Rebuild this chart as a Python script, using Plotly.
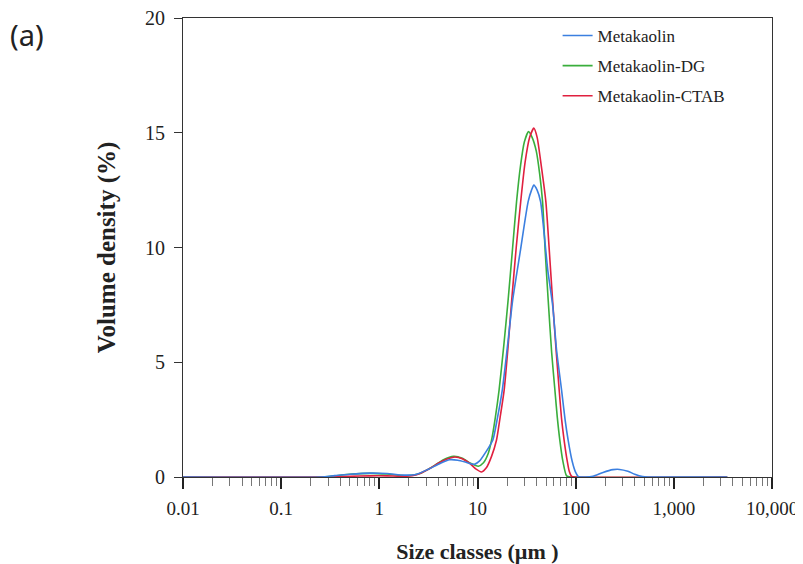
import plotly.graph_objects as go

# ---- data ----
mk_size = [0.01, 0.25, 0.35, 0.5, 0.8, 1.2, 1.8, 2.4, 3.2, 4.2, 5.2, 6.3, 7.5, 8.5, 9.4,
           10.5, 12.0, 14.3, 16.0, 17.9, 20.2, 22.8, 27.2, 32.8, 35.5, 37.5, 40.5, 43.9,
           48.0, 52.0, 58.2, 64.0, 71.8, 78.0, 83.9, 92.0, 100, 106, 125, 150, 190, 240,
           280, 340, 400, 480, 550, 3500]
mk_vol = [0, 0, 0.06, 0.12, 0.17, 0.15, 0.08, 0.12, 0.35, 0.6, 0.75, 0.73, 0.65, 0.58, 0.56,
          0.7, 1.05, 1.6, 2.6, 3.8, 5.7, 7.7, 9.8, 12.0, 12.5, 12.72, 12.5, 12.0,
          10.5, 9.0, 7.5, 5.5, 3.8, 2.5, 1.6, 0.7, 0.2, 0.03, 0, 0.03, 0.2, 0.32,
          0.33, 0.25, 0.12, 0.02, 0, 0]

dg_size = [0.01, 0.25, 0.35, 0.5, 0.8, 1.2, 1.9, 2.6, 3.5, 4.5, 5.7, 7.0, 8.5, 10.2, 11.5,
           12.8, 13.9, 15.2, 16.6, 18.5, 20.5, 22.8, 25.0, 27.5, 30.0, 33.1, 36.0, 39.7,
           43.0, 46.0, 49.0, 52.5, 57.0, 61.4, 65.0, 69.0, 74.0, 80.8, 90, 3500]
dg_vol = [0, 0, 0.05, 0.12, 0.16, 0.13, 0.05, 0.15, 0.45, 0.75, 0.9, 0.82, 0.6, 0.47, 0.62,
          1.0, 1.6, 2.6, 3.8, 5.7, 7.7, 10.0, 12.0, 13.6, 14.6, 15.05, 14.8, 14.2,
          13.2, 12.0, 9.8, 7.7, 5.4, 3.8, 2.6, 1.6, 0.7, 0.05, 0, 0]

ctab_size = [0.01, 0.3, 0.5, 0.8, 1.2, 1.8, 2.4, 3.2, 4.2, 5.0, 5.9, 7.0, 8.3, 9.6, 11.0,
             12.3, 13.9, 15.6, 17.0, 18.7, 20.5, 22.3, 24.8, 27.7, 30.5, 34.0, 37.5, 40.5,
             44.5, 49.7, 54.0, 58.2, 63.0, 67.9, 72.0, 76.3, 82.0, 86.0, 91.0, 100, 3500]
ctab_vol = [0, 0, 0.03, 0.05, 0.05, 0.03, 0.1, 0.35, 0.65, 0.8, 0.87, 0.8, 0.6, 0.35, 0.22,
            0.4, 0.9, 1.6, 2.6, 3.8, 5.7, 7.7, 10.0, 12.1, 13.7, 14.8, 15.2, 14.8,
            13.6, 12.0, 9.8, 7.7, 5.6, 3.8, 2.5, 1.6, 0.7, 0.25, 0.03, 0, 0]

series = [
    ("Metakaolin-DG", dg_size, dg_vol, "#3aae3c", 2),
    ("Metakaolin-CTAB", ctab_size, ctab_vol, "#e0203f", 3),
    ("Metakaolin", mk_size, mk_vol, "#3b7fe0", 1),
]

x_tickvals = [0.01, 0.1, 1, 10, 100, 1000, 10000]
x_ticktext = ["0.01", "0.1", "1", "10", "100", "1,000", "10,000"]
x_minor = [m * 10 ** e for e in range(-2, 4) for m in range(2, 10)]
y_tickvals = [0, 5, 10, 15, 20]

fig = go.Figure()
for name, xs, ys, color, rank in series:
    fig.add_trace(go.Scatter(
        x=xs, y=ys, mode="lines", name=name,
        line=dict(color=color, width=1.6, shape="spline", smoothing=0.6),
        legendrank=rank, legendgroup=name,
    ))

x_font = dict(family="Liberation Serif", size=19, color="#222")
y_font = dict(family="Liberation Serif", size=20, color="#222")

fig.update_layout(
    width=795, height=556,
    margin=dict(l=175, r=31, t=10, b=87),
    paper_bgcolor="white", plot_bgcolor="white",
    showlegend=True,
    legend=dict(x=0.636, y=1.0, xanchor="left", yanchor="top",
                font=dict(family="Liberation Serif", size=17, color="#222"),
                itemwidth=30, tracegroupgap=5, bgcolor="rgba(0,0,0,0)"),
    xaxis=dict(
        type="log", range=[-2, 4], automargin=False, ticklabeloverflow="allow",
        tickmode="array", tickvals=x_tickvals, ticktext=x_ticktext,
        ticks="outside", ticklen=11, tickwidth=2, tickcolor="#222",
        showline=True, linecolor="#333", linewidth=1, mirror=True,
        showgrid=False, zeroline=False, tickfont=x_font,
        ticklabelstandoff=3,
        minor=dict(tickmode="array", tickvals=x_minor, ticks="outside",
                   ticklen=8, tickwidth=1, tickcolor="#777", showgrid=False),
        title=dict(text="<b>Size classes (µm )</b>", standoff=25,
                   font=dict(family="Liberation Serif", size=22, color="#222")),
    ),
    yaxis=dict(
        range=[0, 20], tickmode="array", tickvals=y_tickvals, automargin=False,
        ticklabeloverflow="allow",
        ticks="outside", ticklen=8, tickwidth=1, tickcolor="#333",
        showline=True, linecolor="#333", linewidth=1, mirror=True,
        showgrid=False, zeroline=False, tickfont=y_font,
        ticklabelstandoff=5,
        title=dict(text="<b>Volume density (%)</b>", standoff=22,
                   font=dict(family="Liberation Serif", size=25, color="#222")),
    ),
    annotations=[dict(text="(a)", xref="paper", yref="paper", x=-0.297, y=0.965,
                      xanchor="left", yanchor="middle", showarrow=False,
                      font=dict(family="Noto Sans", size=29, color="#222"))],
)

fig.write_html("out.html")
